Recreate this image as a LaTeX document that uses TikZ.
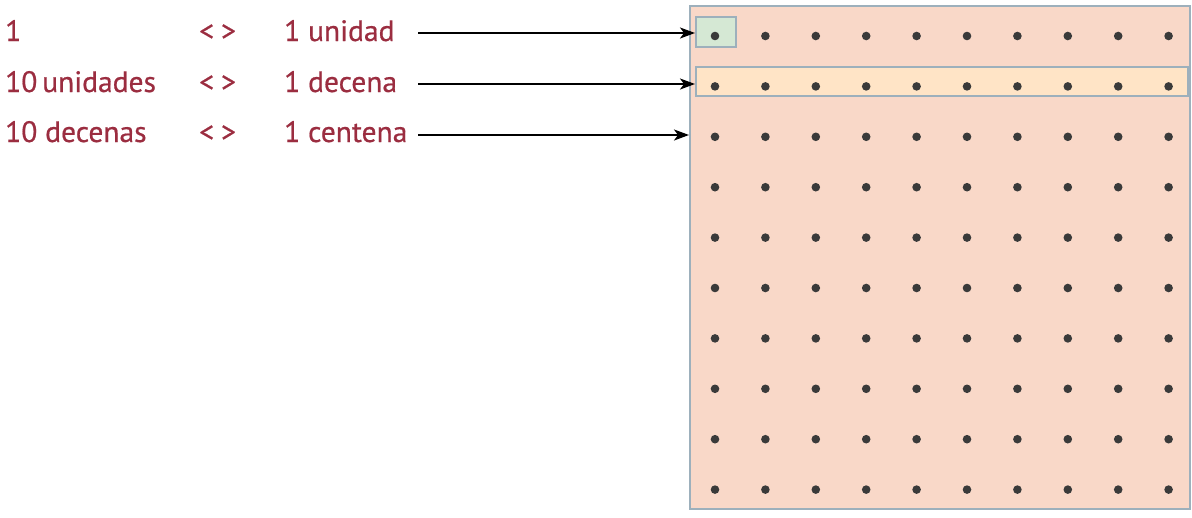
\documentclass[tikz,border=0pt]{standalone}
\usepackage{fontspec}
\setmainfont{PT Sans}
\newfontface\lblfont{PT Sans}[FakeBold=0.6]
\usetikzlibrary{arrows.meta}
\definecolor{txtred}{HTML}{9B2D40}
\definecolor{peach}{HTML}{F9D8C8}
\definecolor{edge}{HTML}{9DB0BC}
\definecolor{unitgreen}{HTML}{D5E8D4}
\definecolor{tenorange}{HTML}{FFE4C6}
\definecolor{dotgray}{HTML}{3A3A3A}
\tikzset{
  lbl/.style={anchor=base west, inner sep=0pt, text=txtred, font=\lblfont\fontsize{29.5}{32}\selectfont},
  arr/.style={-{Stealth[length=15pt,width=11pt,inset=4pt]}, line width=1.8pt, black},
  box/.style={draw=edge, line width=2pt},
  pt/.style={fill=dotgray, draw=none}
}
\begin{document}
\begin{tikzpicture}[x=1pt,y=-1pt]
\useasboundingbox (0,0) rectangle (1192,517);
% hundred block
\draw[box, fill=peach] (690,6) rectangle (1190,509);
\node[box, fill=unitgreen, inner sep=0pt, minimum width=40pt, minimum height=30pt, anchor=north west] (u) at (695,16) {};
\node[box, fill=tenorange, inner sep=0pt, minimum width=492pt, minimum height=29pt, anchor=north west] (d) at (695,66) {};
\coordinate (c) at (689,135);
\foreach \i in {0,...,9}{
  \foreach \j in {0,...,9}{
    \fill[pt] ({715+50.4*\i},{36+50.4*\j}) circle (4.3pt);
  }
}
% labels
\node[lbl] (l1a) at (5,41) {1};
\node[lbl] (l1b) at (199,41) {<\hspace{7pt}>};
\node[lbl] (l1c) at (284,41) {1 unidad};
\node[lbl] (l2a) at (5,92) {10\,unidades};
\node[lbl] (l2b) at (199,92) {<\hspace{7pt}>};
\node[lbl] (l2c) at (284,92) {1 decena};
\node[lbl] (l3a) at (5,142) {10 decenas};
\node[lbl] (l3b) at (199,142) {<\hspace{7pt}>};
\node[lbl] (l3c) at (284,142) {1 centena};
% arrows
\coordinate (s1) at (418,33);
\coordinate (s2) at (418,84);
\coordinate (s3) at (418,135);
\draw[arr] (s1) -- (s1 -| u.west);
\draw[arr] (s2) -- (s2 -| d.west);
\draw[arr] (s3) -- (c);
\end{tikzpicture}
\end{document}
